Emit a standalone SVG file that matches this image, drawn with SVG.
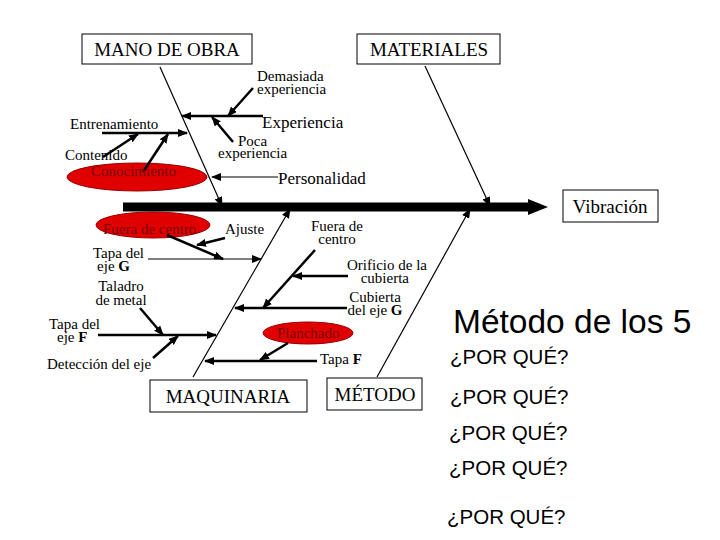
<svg xmlns="http://www.w3.org/2000/svg" width="720" height="540" viewBox="0 0 720 540">
<style>
.t{font-family:"Liberation Serif",serif;font-size:15px;fill:#000}
.b{font-family:"Liberation Serif",serif;font-size:19px;fill:#000}
.r{fill:#7a0000}
.s{font-family:"Liberation Sans",sans-serif;fill:#000}
.box{fill:#fff;stroke:#000;stroke-width:1}
.l1{stroke:#000;stroke-width:1.2;fill:none;marker-end:url(#a)}
.l2{stroke:#000;stroke-width:2.5;fill:none;marker-end:url(#a2)}
.ell{fill:#e00000;stroke:#900;stroke-width:1}
</style>
<defs>
<marker id="a" markerWidth="10" markerHeight="8" refX="9" refY="4" orient="auto" markerUnits="userSpaceOnUse"><path d="M0,0 L10,4 L0,8 z" fill="#000"/></marker>
<marker id="a2" markerWidth="10" markerHeight="8" refX="9" refY="4" orient="auto" markerUnits="userSpaceOnUse"><path d="M0,0 L10,4 L0,8 z" fill="#000"/></marker>
</defs>
<rect width="720" height="540" fill="#fff"/>
<g id="ellipses">
<ellipse class="ell" cx="137" cy="177" rx="70" ry="14"/>
<ellipse class="ell" cx="153" cy="225" rx="57" ry="13"/>
<ellipse class="ell" cx="308" cy="333" rx="45" ry="11"/>
</g>
<g id="connectors">
<line x1="123" y1="207" x2="530" y2="207" stroke="#000" stroke-width="9"/>
<path d="M528,199 L548,207 L528,215 z" fill="#000"/>
<line class="l1" x1="160" y1="67" x2="222" y2="206"/>
<line class="l1" x1="425" y1="66" x2="490" y2="206"/>
<line class="l1" x1="193" y1="377" x2="290" y2="209"/>
<line class="l1" x1="377" y1="377" x2="470" y2="209"/>
<line class="l2" x1="263" y1="116" x2="182" y2="116"/>
<line class="l2" x1="253" y1="88" x2="228" y2="116"/>
<line class="l2" x1="233" y1="142" x2="212" y2="117"/>
<line class="l2" x1="102" y1="133" x2="187" y2="133"/>
<line class="l2" x1="103" y1="157" x2="138" y2="134"/>
<line class="l2" x1="143" y1="172" x2="168" y2="134"/>
<line class="l1" x1="278" y1="177" x2="212" y2="177"/>
<line class="l2" x1="225" y1="238" x2="197" y2="245"/>
<line class="l2" x1="167" y1="235" x2="223" y2="259"/>
<line class="l1" x1="148" y1="259" x2="261" y2="259"/>
<line class="l2" x1="315" y1="250" x2="263" y2="308"/>
<line class="l2" x1="348" y1="276" x2="293" y2="276"/>
<line class="l2" x1="347" y1="308" x2="235" y2="308"/>
<line class="l2" x1="140" y1="308" x2="163" y2="335"/>
<line class="l2" x1="98" y1="335" x2="216" y2="335"/>
<line class="l2" x1="153" y1="358" x2="178" y2="336"/>
<line class="l2" x1="288" y1="343" x2="260" y2="360"/>
<line class="l2" x1="317" y1="361" x2="205" y2="361"/>
</g>
<g id="mano"><rect class="box" x="82" y="34" width="170" height="30"/><text class="b" x="167" y="56" text-anchor="middle">MANO DE OBRA</text></g>
<g id="materiales"><rect class="box" x="357" y="34" width="143" height="30"/><text class="b" x="429" y="56" text-anchor="middle">MATERIALES</text></g>
<g id="maquinaria"><rect class="box" x="150" y="380" width="157" height="32"/><text class="b" x="228" y="403" text-anchor="middle">MAQUINARIA</text></g>
<g id="metodo"><rect class="box" x="327" y="378" width="95" height="32"/><text class="b" x="375" y="401" text-anchor="middle">MÉTODO</text></g>
<g id="vibracion"><rect class="box" x="563" y="190" width="95" height="32"/><text class="b" x="610" y="213" text-anchor="middle">Vibración</text></g>
<g id="labels">
<text class="t" x="257" y="81">Demasiada</text>
<text class="t" x="257" y="94">experiencia</text>
<text class="b" x="262" y="128" style="font-size:17px">Experiencia</text>
<text class="t" x="70" y="129">Entrenamiento</text>
<text class="t" x="238" y="146">Poca</text>
<text class="t" x="218" y="158">experiencia</text>
<text class="t" x="65" y="160">Contenido</text>
<text class="t r" x="91" y="176">Conocimiento</text>
<text class="b" x="278" y="184" style="font-size:17px">Personalidad</text>
<text class="t r" x="103" y="234">Fuera de centro</text>
<text class="t" x="225" y="234">Ajuste</text>
<text class="t" x="337" y="231" text-anchor="middle">Fuera de</text>
<text class="t" x="337" y="244" text-anchor="middle">centro</text>
<text class="t" x="144" y="258" text-anchor="end">Tapa del</text>
<text class="t" x="130" y="271" text-anchor="end">eje <tspan font-weight="bold">G</tspan></text>
<text class="t" x="427" y="270" text-anchor="end">Orificio de la</text>
<text class="t" x="409" y="283" text-anchor="end">cubierta</text>
<text class="t" x="121" y="291" text-anchor="middle">Taladro</text>
<text class="t" x="121" y="305" text-anchor="middle">de metal</text>
<text class="t" x="375" y="302" text-anchor="middle">Cubierta</text>
<text class="t" x="375" y="315" text-anchor="middle">del eje <tspan font-weight="bold">G</tspan></text>
<text class="t" x="49" y="329">Tapa del</text>
<text class="t" x="57" y="342">eje <tspan font-weight="bold">F</tspan></text>
<text class="t r" x="277" y="338">Planchado</text>
<text class="t" x="320" y="364">Tapa <tspan font-weight="bold">F</tspan></text>
<text class="t" x="47" y="369">Detección del eje</text>
</g>
<g id="side">
<text class="s" x="453" y="333" font-size="33.5">Método de los 5</text>
<text class="s" x="450" y="364" font-size="20.5">¿POR QUÉ?</text>
<text class="s" x="450" y="404" font-size="20.5">¿POR QUÉ?</text>
<text class="s" x="449" y="440" font-size="20.5">¿POR QUÉ?</text>
<text class="s" x="449" y="475" font-size="20.5">¿POR QUÉ?</text>
<text class="s" x="447" y="524" font-size="20.5">¿POR QUÉ?</text>
</g>
</svg>
